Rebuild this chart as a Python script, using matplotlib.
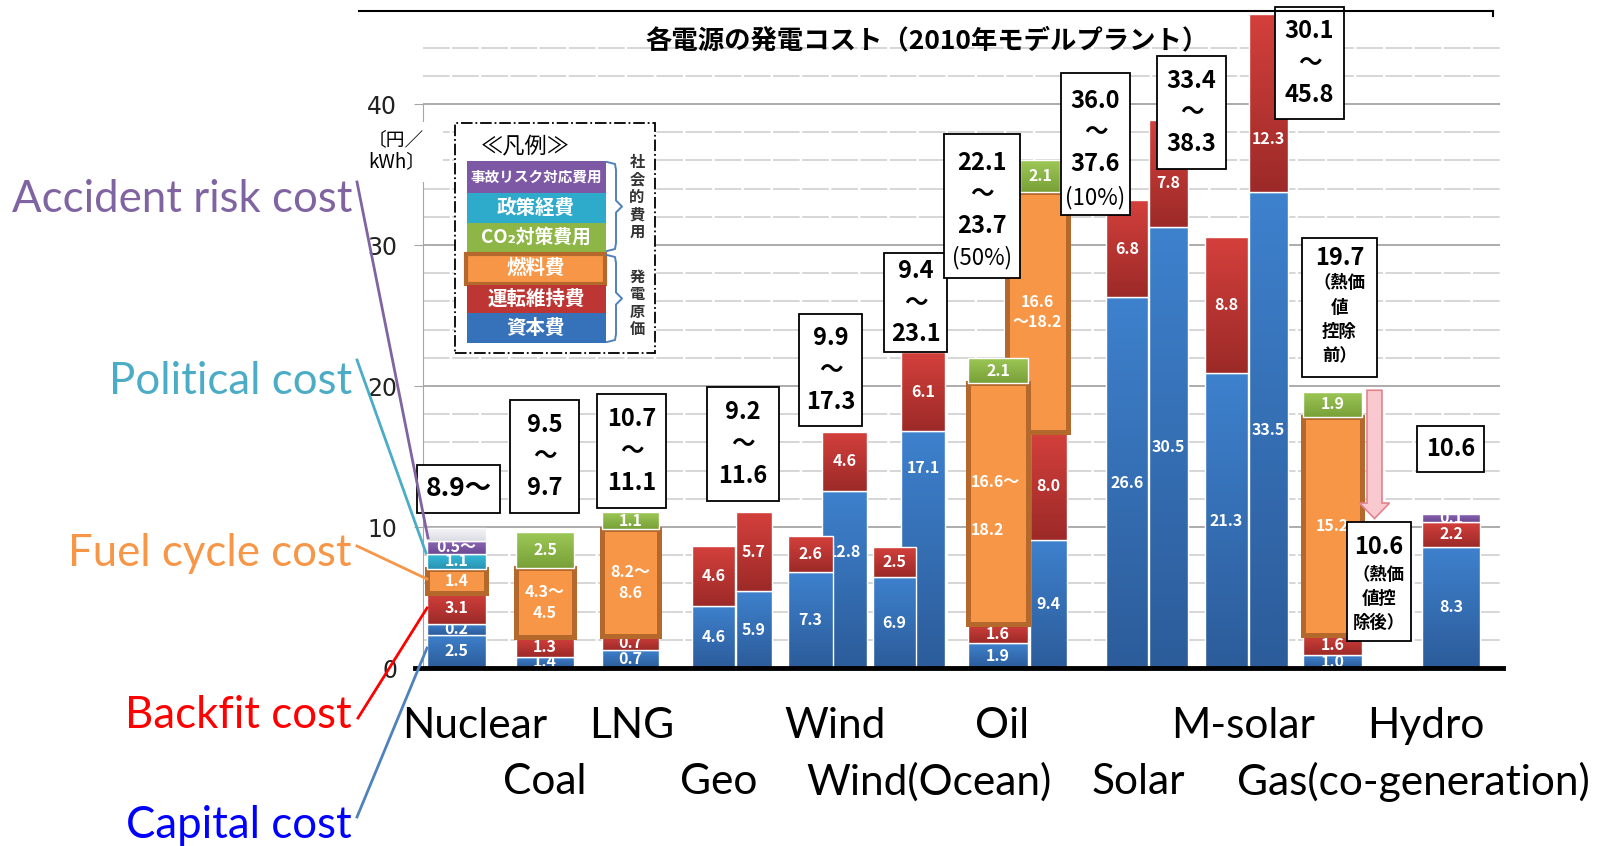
import matplotlib
matplotlib.use("Agg")
import numpy as np
import matplotlib.pyplot as plt
from matplotlib.patches import Rectangle, FancyArrow
from matplotlib.lines import Line2D
from matplotlib.colors import LinearSegmentedColormap

plt.rcParams['font.family'] = ['Noto Sans CJK JP', 'DejaVu Sans']

W, H = 1601, 846  # output size in pixels

# ---------------- data (yen/kWh, 2010 model plant) ----------------
# each source is drawn as one column, or two (lower / upper case)
columns = ['Nuclear', 'Coal', 'LNG', 'Geo-1', 'Geo-2', 'Wind-1', 'Wind-2',
           'Ocean-1', 'Ocean-2', 'Oil-1', 'Oil-2', 'Solar-1', 'Solar-2',
           'Msolar-1', 'Msolar-2', 'Gas', 'Hydro']

# segment heights as drawn in the source chart
capital  = [2.35, 0.8, 1.25, 4.4, 5.45, 6.8, 12.55, 6.45, 16.8, 1.75, 9.1, 26.3, 31.3, 20.9, 33.75, 0.9, 8.6]
backfit  = [0.8, 0, 0, 0, 0, 0, 0, 0, 0, 0, 0, 0, 0, 0, 0, 0, 0]
om       = [2.2, 1.4, 1.0, 4.25, 5.6, 2.55, 4.2, 2.15, 5.6, 1.35, 7.65, 6.9, 7.6, 9.7, 12.65, 1.45, 1.75]
fuel     = [1.7, 4.9, 7.6, 0, 0, 0, 0, 0, 0, 17.1, 17.0, 0, 0, 0, 0, 15.45, 0]
co2      = [0, 2.55, 1.2, 0, 0, 0, 0, 0, 0, 1.8, 2.25, 0, 0, 0, 0, 1.8, 0]
policy   = [1.05, 0, 0, 0, 0, 0, 0, 0, 0, 0, 0, 0, 0, 0, 0, 0, 0]
accident = [0.9, 0, 0, 0, 0, 0, 0, 0, 0, 0, 0, 0, 0, 0, 0, 0, 0.6]
upside   = [0.9, 0, 0, 0, 0, 0, 0, 0, 0, 0, 0, 0, 0, 0, 0, 0, 0]

# printed values
capital_lbl  = ['2.5', '1.4', '0.7', '4.6', '5.9', '7.3', '12.8', '6.9', '17.1', '1.9', '9.4',
                '26.6', '30.5', '21.3', '33.5', '1.0', '8.3']
backfit_lbl  = ['0.2'] + [''] * 16
om_lbl       = ['3.1', '1.3', '0.7', '4.6', '5.7', '2.6', '4.6', '2.5', '6.1', '1.6', '8.0',
                '6.8', '7.8', '8.8', '12.3', '1.6', '2.2']
fuel_lbl     = ['1.4', '4.3〜\n4.5', '8.2〜\n8.6', '', '', '', '', '', '', '', '16.6\n〜18.2',
                '', '', '', '', '15.2', '']
co2_lbl      = ['', '2.5', '1.1', '', '', '', '', '', '', '2.1', '2.1', '', '', '', '', '1.9', '']
policy_lbl   = ['1.1'] + [''] * 16
accident_lbl = ['0.5〜'] + [''] * 15 + ['0.1']
upside_lbl   = [''] * 17
oil_fuel_lbl = ['16.6〜', '18.2']

# total cost ranges shown in the boxes
range_text = ['8.9〜', '9.5\n〜\n9.7', '10.7\n〜\n11.1', '9.2\n〜\n11.6', '9.9\n〜\n17.3',
              '9.4\n〜\n23.1', '22.1\n〜\n23.7', '36.0\n〜\n37.6',
              '33.4\n〜\n38.3', '30.1\n〜\n45.8', '10.6']
range_note = ['', '', '', '', '', '', '(50%)', '(10%)', '', '', '']
gas_before, gas_after = 19.7, 10.6
gas_note_before = '（熱価\n値\n控除\n前）'
gas_note_after = '（熱価\n値控\n除後）'

names_row1 = ['Nuclear', 'LNG', 'Wind', 'Oil', 'M-solar', 'Hydro']
names_row2 = ['Coal', 'Geo', 'Wind(Ocean)', 'Solar', 'Gas(co-generation)']
callouts = ['Accident risk cost', 'Political cost', 'Fuel cycle cost', 'Backfit cost', 'Capital cost']

legend_items = ['事故リスク対応費用', '政策経費', 'CO₂対策費用', '燃料費', '運転維持費', '資本費']

# ---------------- layout ----------------
col_x = [0.335, 1.22, 2.075, 2.905, 3.31, 3.875, 4.215, 4.715, 5.0, 5.75, 6.255,
         7.04, 7.455, 8.035, 8.455, 9.095, 10.28]
col_w = [0.59, 0.58, 0.57, 0.43, 0.36, 0.45, 0.45, 0.43, 0.44, 0.60, 0.37,
         0.42, 0.39, 0.43, 0.39, 0.59, 0.58]
col_back = {'Wind-2', 'Ocean-2', 'Oil-2'}
seg_xw = {('fuel', 'Oil-2'): (6.145, 0.61), ('co2', 'Oil-2'): (6.17, 0.40)}
label_y = {('capital', 'Wind-2'): 8.2, ('capital', 'Ocean-2'): 14.2,
           ('om', 'Msolar-2'): 37.5, ('om', 'Solar-2'): 34.4}

# (x0, x1, y0, y1) in data units, then y of the main text and of the note
range_box = [(-0.06, 0.77, 11.0, 14.4), (0.87, 1.56, 11.0, 19.0), (1.74, 2.43, 11.35, 19.43),
             (2.84, 3.56, 11.85, 19.93), (3.76, 4.39, 17.16, 25.1), (4.61, 5.24, 22.4, 29.43),
             (5.21, 5.97, 27.66, 37.87), (6.38, 7.07, 32.13, 42.2), (7.34, 8.03, 35.4, 43.4),
             (8.52, 9.21, 38.94, 46.88), (9.94, 10.61, 13.9, 17.16)]
range_text_y = {6: (33.6, 29.1), 7: (38.0, 33.4)}
gas_box_before = (8.79, 9.54, 20.64, 30.5)
gas_box_after = (9.24, 9.88, 1.91, 10.35)

BLUE, RED, ORANGE, GREEN = '#3672BA', '#BD3633', '#F79646', '#8DB646'
CYAN, PURPLE, FADE, BROWN = '#2EABCB', '#7D58A5', '#E4E4EA', '#B4682C'
shades = {BLUE: ('#3E81CD', '#2C5C9A'), RED: ('#D4403C', '#9C2A28'),
          GREEN: ('#9DC856', '#78A038'), CYAN: ('#36BAD8', '#2893B2'),
          PURPLE: ('#8B65B6', '#6B4992'), FADE: ('#F4F4F8', '#DCDCE4')}

row1_x = [475, 632, 835, 1002, 1243, 1426]
row2_x = [545, 719, 929, 1138, 1413]
callout_y = [199, 381, 554, 715, 825]
callout_col = ['#8064A2', '#4BACC6', '#F79646', '#FF0000', '#0000FF']
callout_line_col = ['#8064A2', '#4BACC6', '#F79646', '#FF0000', '#4F81BD']
callout_from = [(357, 182), (357, 360), (357, 546), (358, 718), (357, 817)]
callout_to = [(428, 538), (426, 553), (427, 579), (427, 608), (427, 648)]


def fx(px):
    return px / W


def fy(py):
    return 1 - py / H


grad = np.linspace(0, 1, 128).reshape(-1, 1)


def shade(bar, color, z):
    """Paint a vertical gradient into one bar segment."""
    top, bottom = shades[color]
    x0, y0 = bar.get_xy()
    cmap = LinearSegmentedColormap.from_list('seg', [bottom, top])
    im = ax.imshow(grad, cmap=cmap, origin='lower', aspect='auto', interpolation='bilinear',
                   extent=(x0, x0 + bar.get_width(), y0, y0 + bar.get_height()), zorder=z)
    im.set_clip_path(bar)


fig = plt.figure(figsize=(W / 100, H / 100), dpi=100)
ax = fig.add_axes([fx(423), fy(668), 1077 / W, 657 / H])

# grid
for v in range(2, 46, 2):
    if v % 10 == 0:
        ax.axhline(v, color='#A6A6A6', lw=1.3, zorder=0.5)
    else:
        ax.axhline(v, color='#CFCFCF', lw=1.2, ls=(0, (16, 1.5)), zorder=0.5)

# stacked bars
series = [(capital, capital_lbl, BLUE, 'capital'), (backfit, backfit_lbl, BLUE, 'backfit'),
          (om, om_lbl, RED, 'om'), (fuel, fuel_lbl, ORANGE, 'fuel'),
          (co2, co2_lbl, GREEN, 'co2'), (policy, policy_lbl, CYAN, 'policy'),
          (accident, accident_lbl, PURPLE, 'accident'), (upside, upside_lbl, FADE, 'upside')]

bottoms = [0.0] * len(columns)
for vals, lbls, color, key in series:
    for i, name in enumerate(columns):
        h = vals[i]
        if h == 0:
            continue
        x, w = seg_xw.get((key, name), (col_x[i], col_w[i]))
        z = 2 if name in col_back else 3
        if key == 'fuel':
            ax.bar(x, h, w, bottom=bottoms[i], color=color, edgecolor=BROWN, linewidth=3.6, zorder=z)
        else:
            bar = ax.bar(x, h, w, bottom=bottoms[i], color=color, linewidth=0, zorder=z)[0]
            shade(bar, color, z)
            ax.bar(x, h, w, bottom=bottoms[i], fill=False, edgecolor='white', linewidth=1, zorder=z)
        if lbls[i]:
            y = label_y.get((key, name), bottoms[i] + h / 2)
            ax.text(x, y, lbls[i], ha='center', va='center', color='white', fontsize=11.5,
                    weight='bold', linespacing=1.35, zorder=z)
        bottoms[i] += h

# oil (lower case) fuel label is split along the left edge
ax.text(5.48, 13.2, oil_fuel_lbl[0], ha='left', va='center', color='white', fontsize=11.5,
        weight='bold', zorder=3.5)
ax.text(5.48, 9.8, oil_fuel_lbl[1], ha='left', va='center', color='white', fontsize=11.5,
        weight='bold', zorder=3.5)

ax.plot([-0.08, 10.8], [0, 0], color='black', lw=3.5, clip_on=False, zorder=6)

# range boxes
for k, ((x0, x1, y0, y1), t, note) in enumerate(zip(range_box, range_text, range_note)):
    ax.add_patch(Rectangle((x0, y0), x1 - x0, y1 - y0, fc='white', ec='black', lw=1.3,
                           zorder=6, clip_on=False))
    ty, ny = range_text_y.get(k, ((y0 + y1) / 2, None))
    ax.text((x0 + x1) / 2, ty, t, ha='center', va='center', fontsize=19 if k == 0 else 17,
            weight='bold', linespacing=1.4, zorder=7, clip_on=False)
    if note:
        ax.text((x0 + x1) / 2, ny, note, ha='center', va='center', fontsize=16, zorder=7)

# gas: heat value deduction
ax.add_patch(FancyArrow(9.515, gas_before, 0, gas_after - gas_before, width=0.15, head_width=0.3,
                        head_length=1.1, length_includes_head=True, fc='#F9C9CF', ec='#E0848C',
                        lw=1.2, zorder=5))
for (x0, x1, y0, y1), val, note, ty, ny in [(gas_box_before, gas_before, gas_note_before, 29.1, 24.7),
                                            (gas_box_after, gas_after, gas_note_after, 8.6, 4.9)]:
    ax.add_patch(Rectangle((x0, y0), x1 - x0, y1 - y0, fc='white', ec='black', lw=1.3, zorder=6))
    ax.text((x0 + x1) / 2, ty, f'{val:.1f}', ha='center', va='center', fontsize=17,
            weight='bold', zorder=7)
    ax.text((x0 + x1) / 2, ny, note, ha='center', va='center', fontsize=12.5,
            weight='bold', linespacing=1.45, zorder=7)

ax.set_xlim(0, 10.77)
ax.set_ylim(0, 46.6)
for s in ['top', 'right', 'bottom']:
    ax.spines[s].set_visible(False)
ax.spines['left'].set_color('#A6A6A6')
ax.spines['left'].set_bounds(0, 40)
ax.set_xticks([])
ax.set_yticks([0, 10, 20, 30, 40])
ax.tick_params(axis='y', length=6.5, color='#A6A6A6', labelsize=17, pad=12, labelcolor='#222222')
for t in ax.get_yticklabels():
    t.set_fontfamily('DejaVu Sans')

# ---------------- figure level decoration ----------------
fig.add_artist(Line2D([fx(359), fx(1493)], [fy(11), fy(11)], color='black', lw=1.5))
fig.add_artist(Line2D([fx(1493), fx(1493)], [fy(11), fy(16)], color='black', lw=1.5))
fig.text(fx(927), fy(41), '各電源の発電コスト（2010年モデルプラント）', ha='center', va='center',
         fontsize=19, weight='bold')
# unit label sits on a white patch that hides the axis line behind it
fig.add_artist(Rectangle((fx(357), fy(182)), 86 / W, 60 / H, transform=fig.transFigure,
                         fc='white', ec='none'))
fig.text(fx(368), fy(151), '〔円／\nkWh〕', ha='left', va='center', fontsize=13.5, linespacing=1.05)

# legend
fig.add_artist(Rectangle((fx(455), fy(353)), 200 / W, 230 / H, transform=fig.transFigure,
                         fc='white', ec='black', lw=1.3, ls='-.'))
fig.text(fx(525), fy(147), '≪凡例≫', ha='center', va='center', fontsize=16)
leg_colors = [PURPLE, CYAN, GREEN, ORANGE, RED, BLUE]
leg_rows = [(161, 193), (193, 223), (223, 252), (252, 285), (285, 313), (313, 343)]
leg_size = [10.5, 14, 13.5, 14, 14, 14]
for item, c, (y0, y1), s in zip(legend_items, leg_colors, leg_rows, leg_size):
    if c == ORANGE:
        fig.add_artist(Rectangle((fx(466), fy(y1 - 1)), 139 / W, (y1 - y0 - 3) / H,
                                 transform=fig.transFigure, fc=c, ec=BROWN, lw=3))
    else:
        fig.add_artist(Rectangle((fx(467), fy(y1)), 139 / W, (y1 - y0) / H,
                                 transform=fig.transFigure, fc=c, ec='none'))
    fig.text(fx(536), fy((y0 + y1) / 2), item, ha='center', va='center', fontsize=s,
             weight='bold', color='white')
for top, bot in [(162, 251), (255, 342)]:
    mid = (top + bot) / 2
    pts = [(607, top), (615, top + 2), (616, top + 8), (616, mid - 6), (622, mid),
           (616, mid + 6), (616, bot - 8), (615, bot - 2), (607, bot)]
    fig.add_artist(Line2D([fx(p[0]) for p in pts], [fy(p[1]) for p in pts],
                          color='#4F81BD', lw=1.4))
fig.text(fx(637), fy(197), '社\n会\n的\n費\n用', ha='center', va='center', fontsize=11,
         weight='bold', color='#333333', linespacing=1.1)
fig.text(fx(637), fy(303), '発\n電\n原\n価', ha='center', va='center', fontsize=11,
         weight='bold', color='#333333', linespacing=1.1)

# category names
for name, x in zip(names_row1, row1_x):
    fig.text(fx(x), fy(726), name, ha='center', va='center', fontsize=30.5, family='Lato')
for name, x in zip(names_row2, row2_x):
    fig.text(fx(x), fy(782), name, ha='center', va='center', fontsize=30.5, family='Lato')

# call-outs for the nuclear bar
for t, y, c, lc, p0, p1 in zip(callouts, callout_y, callout_col, callout_line_col,
                               callout_from, callout_to):
    fig.text(fx(352), fy(y), t, ha='right', va='center', fontsize=31.5, family='Lato', color=c)
    fig.add_artist(Line2D([fx(p0[0]), fx(p1[0])], [fy(p0[1]), fy(p1[1])], color=lc, lw=2))

fig.savefig('out.png', dpi=100)
